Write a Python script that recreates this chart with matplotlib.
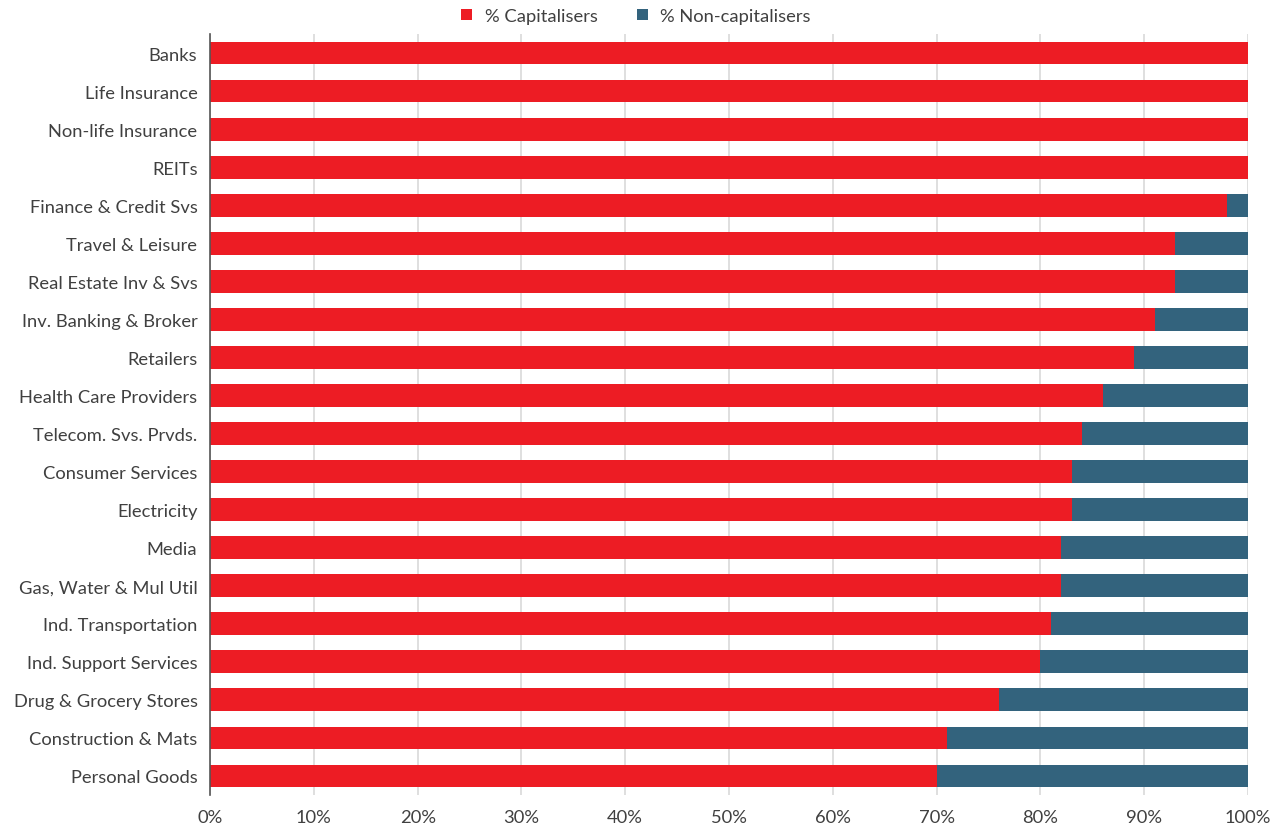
import numpy as np
from matplotlib import pyplot as plt

plt.rcParams['font.family'] = ['Lato', 'DejaVu Sans']

sectors = ["Banks", "Life Insurance", "Non-life Insurance", "REITs",
           "Finance & Credit Svs", "Travel & Leisure", "Real Estate Inv & Svs",
           "Inv. Banking & Broker", "Retailers", "Health Care Providers",
           "Telecom. Svs. Prvds.", "Consumer Services", "Electricity", "Media",
           "Gas, Water & Mul Util", "Ind. Transportation", "Ind. Support Services",
           "Drug & Grocery Stores", "Construction & Mats", "Personal Goods"]
capitalisers = [100, 100, 100, 100, 98, 93, 93, 91, 89, 86,
                84, 83, 83, 82, 82, 81, 80, 76, 71, 70]
non_capitalisers = [100 - v for v in capitalisers]

red = "#ED1C24"
blue = "#33637D"
txt = "#404040"

fig = plt.figure(figsize=(12.85, 8.28), dpi=100)
ax = fig.add_axes([210/1285, 1-796/828, (1248-210)/1285, (796-35)/828])

y = np.arange(len(sectors))
ax.barh(y, capitalisers, height=0.6, color=red, label="% Capitalisers", zorder=3)
ax.barh(y, non_capitalisers, left=capitalisers, height=0.6, color=blue,
        label="% Non-capitalisers", zorder=3)

ax.set_xlim(0, 100)
ax.set_ylim(len(sectors) - 0.5, -0.5)
ax.set_yticks(y)
ax.set_yticklabels(sectors, fontsize=13.2, color=txt)
ax.set_xticks(np.arange(0, 101, 10))
ax.set_xticklabels(["{}%".format(v) for v in range(0, 101, 10)], fontsize=13.2, color=txt)
ax.tick_params(axis='y', length=0, pad=9)
ax.tick_params(axis='x', length=0, pad=10)
ax.grid(axis='x', color="#d9d9d9", linewidth=1.2, zorder=0)
for s in ["top", "right", "bottom"]:
    ax.spines[s].set_visible(False)
ax.spines["left"].set_color("#555555")
ax.spines["left"].set_linewidth(1.2)
ax.spines["left"].set_zorder(4)

handles, labels = ax.get_legend_handles_labels()
leg = fig.legend(handles, labels, loc="center", bbox_to_anchor=(0.495, 1 - 17/828), ncol=2,
                 frameon=False, fontsize=13.2, handlelength=0.6, handleheight=0.6,
                 handletextpad=0.7, columnspacing=2.1, borderaxespad=0)
for t in leg.get_texts():
    t.set_color(txt)

fig.savefig("out.png", dpi=100)
